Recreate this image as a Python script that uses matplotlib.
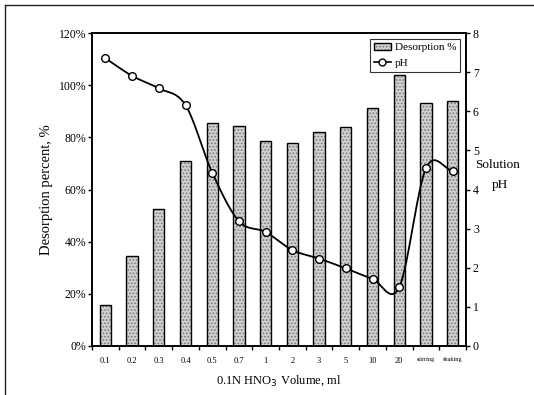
import numpy as np
import matplotlib
matplotlib.use("Agg")
import matplotlib.pyplot as plt
from matplotlib.lines import Line2D
from matplotlib.legend_handler import HandlerTuple

plt.rcParams['font.family'] = ['Liberation Serif', 'DejaVu Serif']
plt.rcParams['hatch.linewidth'] = 0.8

# Data
volumes = ["0.1", "0.2", "0.3", "0.4", "0.5", "0.7", "1", "2", "3", "5",
           "10", "20", "stirring", "shaking"]
desorption = [15.6, 34.6, 52.4, 71.1, 85.4, 84.4, 78.6, 77.7, 82.2, 83.9,
              91.2, 104.0, 93.3, 94.1]
ph = [7.36, 6.91, 6.59, 6.16, 4.43, 3.19, 2.91, 2.45, 2.23, 1.98,
      1.71, 1.50, 4.54, 4.48]
pct_ticks = [0, 20, 40, 60, 80, 100, 120]
ph_ticks = [0, 1, 2, 3, 4, 5, 6, 7, 8]


def smooth_curve(y, n=30):
    """Catmull-Rom curve through the points (spreadsheet-style smoothed line)."""
    y = np.asarray(y, float)
    m = len(y)
    tang = np.empty(m)
    tang[1:-1] = (y[2:] - y[:-2]) / 2.0
    tang[0] = y[1] - y[0]
    tang[-1] = y[-1] - y[-2]
    xs, ys = [], []
    t = np.linspace(0, 1, n, endpoint=False)
    for i in range(m - 1):
        h00 = 2 * t**3 - 3 * t**2 + 1
        h10 = t**3 - 2 * t**2 + t
        h01 = -2 * t**3 + 3 * t**2
        h11 = t**3 - t**2
        xs.append(i + t)
        ys.append(h00 * y[i] + h10 * tang[i] + h01 * y[i + 1] + h11 * tang[i + 1])
    xs.append([m - 1])
    ys.append([y[-1]])
    return np.concatenate(xs), np.concatenate(ys)


fig = plt.figure(figsize=(5.34, 3.95), dpi=100)
ax = fig.add_axes([0.1723, 0.1248, 0.7004, 0.7909])
ax2 = ax.twinx()

x = np.arange(len(volumes))
bar_fill = ax.bar(x, desorption, width=0.42, color='#d0d0d0', edgecolor='#7a7a7a',
                  hatch='.....', linewidth=0, zorder=2)
bar_edge = ax.bar(x, desorption, width=0.42, fill=False, edgecolor='black',
                  linewidth=1.0, zorder=3)

ax.set_xlim(-0.5, len(volumes) - 0.5)
ax.set_ylim(0, 120)
ax.set_yticks(pct_ticks)
ax.set_yticklabels([f"{v}%" for v in pct_ticks], fontsize=8.5)
ax.set_xticks(x)
ax.set_xticklabels(volumes, fontsize=6)
for lbl in ax.get_xticklabels()[-2:]:
    lbl.set_fontsize(4.5)
ax.tick_params(axis='x', length=0, pad=8)
ax.set_xticks(np.arange(-0.5, len(volumes), 1.0), minor=True)
ax.tick_params(axis='x', which='minor', length=3, direction='out', width=1)
ax.tick_params(axis='y', length=3, width=1, direction='out', pad=1)
ax.set_ylabel("Desorption percent, %", fontsize=10.5, labelpad=4)
ax.set_xlabel(r"0.1N HNO$_3$ Volume, ml", fontsize=9, labelpad=6)

xs, ys = smooth_curve(ph)
ax2.plot(xs, ys, color='black', linewidth=1.3, zorder=4)
ax2.plot(x, ph, linestyle='none', marker='o', markersize=5.5,
         markerfacecolor='white', markeredgecolor='black', markeredgewidth=1.0,
         zorder=5)
ax2.set_ylim(0, 8)
ax2.set_yticks(ph_ticks)
ax2.set_yticklabels([str(v) for v in ph_ticks], fontsize=8.5)
ax2.tick_params(axis='y', length=3, width=1, direction='out', pad=2)
ax2.text(1.085, 0.580, "Solution", transform=ax2.transAxes, ha='center',
         va='center', fontsize=9.5)
ax2.text(1.090, 0.515, "pH", transform=ax2.transAxes, ha='center',
         va='center', fontsize=9.5)

for a in (ax, ax2):
    for s in a.spines.values():
        s.set_linewidth(1.2)

line_handle = Line2D([], [], color='black', linewidth=1.2, marker='o',
                     markersize=5, markerfacecolor='white',
                     markeredgecolor='black')
leg = ax2.legend([(bar_fill, bar_edge), line_handle], ["Desorption %", "pH"],
                 handler_map={tuple: HandlerTuple(ndivide=1)},
                 loc='upper right', bbox_to_anchor=(0.99, 0.99), fontsize=8,
                 frameon=True, fancybox=False, edgecolor='black',
                 handlelength=1.6, handletextpad=0.3, borderpad=0.35,
                 labelspacing=0.55, borderaxespad=0.2)
leg.get_frame().set_linewidth(0.8)

# page frame lines (top and left)
fig.add_artist(Line2D([5 / 534, 1.0], [1 - 5 / 395, 1 - 5 / 395],
                      transform=fig.transFigure, color='#222222', linewidth=1.0))
fig.add_artist(Line2D([5 / 534, 5 / 534], [0.0, 1 - 5 / 395],
                      transform=fig.transFigure, color='#222222', linewidth=1.0))

fig.savefig("out.png", dpi=100)
